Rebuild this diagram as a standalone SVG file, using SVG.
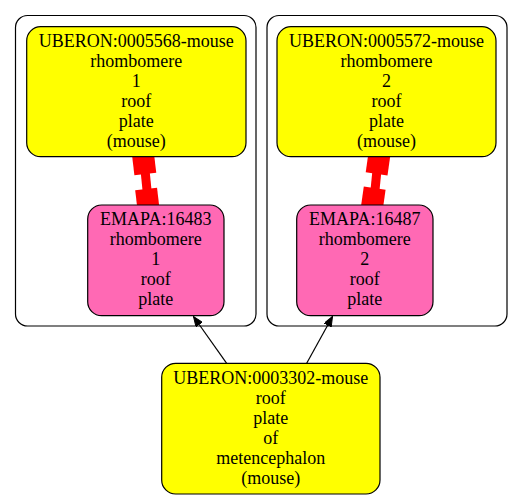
<svg xmlns="http://www.w3.org/2000/svg" width="523" height="500" viewBox="0 0 523 500">
<defs>
<style>
.cl{fill:#ffffff;stroke:#000000;stroke-width:1.2}
.y{fill:#ffff00;stroke:#000000;stroke-width:1.2}
.p{fill:#ff69b4;stroke:#000000;stroke-width:1.2}
text{font-family:"Liberation Serif","Times New Roman",serif;font-size:18px;fill:#000000;text-anchor:middle}
.red{stroke:#ff0000;stroke-width:9;fill:none}
.tee{fill:#ff0000;stroke:none}
.arr{stroke:#000000;stroke-width:1.2;fill:none}
</style>
<marker id="ah" viewBox="0 0 10 8" refX="10" refY="4" markerWidth="10" markerHeight="8" markerUnits="userSpaceOnUse" orient="auto">
<path d="M0,0 L10,4 L0,8 Z" fill="#000000" stroke="#000000" stroke-width="1"/>
</marker>
</defs>
<rect width="523" height="500" fill="#ffffff"/>
<g id="cluster1"><rect class="cl" x="15.5" y="15.5" width="240.5" height="310.5" rx="12"/></g>
<g id="cluster2"><rect class="cl" x="267" y="15.5" width="240" height="310.5" rx="12"/></g>
<g id="connectors">
<line class="red" x1="144" y1="160" x2="148" y2="200"/>
<rect class="tee" x="-11" y="-9.5" width="22" height="19" transform="translate(144.2,164.5) rotate(-6.8)"/>
<rect class="tee" x="-11" y="-10" width="22" height="20" transform="translate(147.3,199) rotate(-6.8)"/>
<line class="red" x1="378" y1="160" x2="374" y2="200"/>
<rect class="tee" x="-11" y="-10" width="22" height="20" transform="translate(378,164) rotate(8)"/>
<rect class="tee" x="-11" y="-10" width="22" height="20" transform="translate(373.3,198) rotate(8)"/>
<line class="arr" x1="226.7" y1="363.3" x2="193.5" y2="316.5" marker-end="url(#ah)"/>
<line class="arr" x1="306.7" y1="363.3" x2="332.5" y2="316.5" marker-end="url(#ah)"/>
</g>
<g id="n_uberon_0005568"><rect class="y" x="26.7" y="26.7" width="219.3" height="130" rx="14"/>
<text x="136.3" y="47">UBERON:0005568-mouse</text><text x="136.3" y="67">rhombomere</text><text x="136.3" y="87">1</text><text x="136.3" y="107">roof</text><text x="136.3" y="127">plate</text><text x="136.3" y="147">(mouse)</text></g>
<g id="n_emapa_16483"><rect class="p" x="87.7" y="205" width="136.3" height="110.7" rx="14"/>
<text x="155.8" y="225">EMAPA:16483</text><text x="155.8" y="245">rhombomere</text><text x="155.8" y="265">1</text><text x="155.8" y="285">roof</text><text x="155.8" y="305">plate</text></g>
<g id="n_uberon_0005572"><rect class="y" x="277" y="26.7" width="219" height="130" rx="14"/>
<text x="386.5" y="47">UBERON:0005572-mouse</text><text x="386.5" y="67">rhombomere</text><text x="386.5" y="87">2</text><text x="386.5" y="107">roof</text><text x="386.5" y="127">plate</text><text x="386.5" y="147">(mouse)</text></g>
<g id="n_emapa_16487"><rect class="p" x="296.7" y="205" width="136.3" height="110.7" rx="14"/>
<text x="364.8" y="225">EMAPA:16487</text><text x="364.8" y="245">rhombomere</text><text x="364.8" y="265">2</text><text x="364.8" y="285">roof</text><text x="364.8" y="305">plate</text></g>
<g id="n_uberon_0003302"><rect class="y" x="161.7" y="363.3" width="218.3" height="130.7" rx="14"/>
<text x="270.8" y="383.5">UBERON:0003302-mouse</text><text x="270.8" y="403.5">roof</text><text x="270.8" y="423.5">plate</text><text x="270.8" y="443.5">of</text><text x="270.8" y="463.5">metencephalon</text><text x="270.8" y="483.5">(mouse)</text></g>
</svg>
